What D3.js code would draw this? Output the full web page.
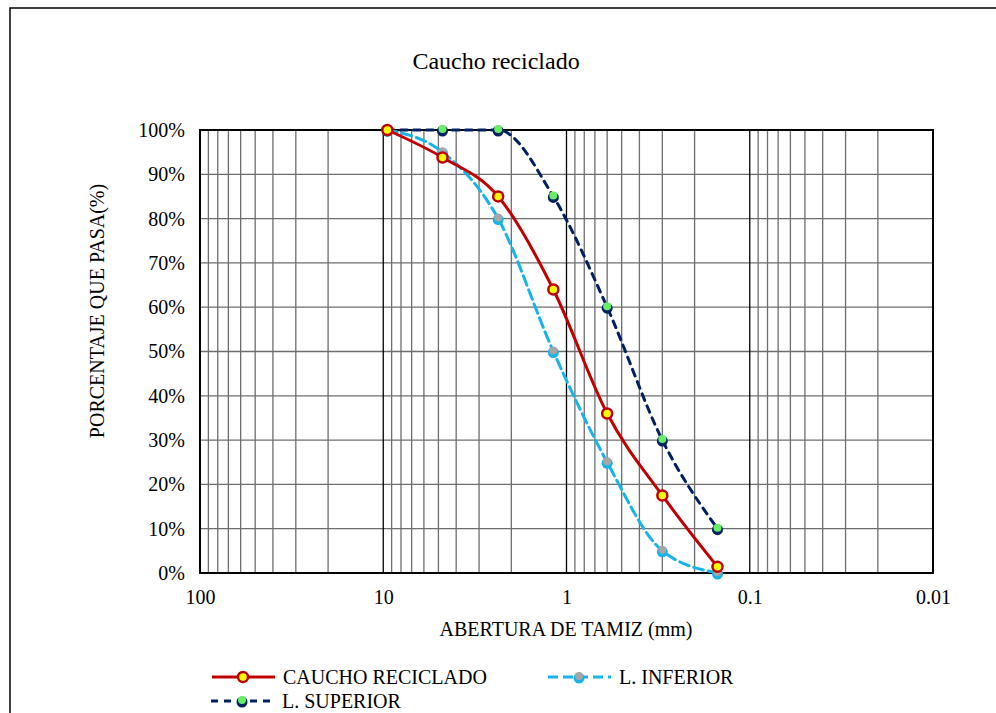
<!DOCTYPE html>
<html>
<head>
<meta charset="utf-8">
<script src="https://cdn.jsdelivr.net/npm/d3@7"></script>
<style>
  body { margin: 0; background: #fff; }
</style>
</head>
<body>
<svg id="chart" width="996" height="713" font-family="Liberation Serif"></svg>
<script>
// sieve openings (mm) and percent passing
const sieves = [9.5, 4.75, 2.36, 1.18, 0.6, 0.3, 0.15];
const caucho = [100, 93.8, 85, 64, 36, 17.5, 1.4];
const inferior = [100, 95, 80, 50, 25, 5, 0];
const superior = [100, 100, 100, 85, 60, 30, 10];
const xTicks = [100, 10, 1, 0.1, 0.01];
const yTicks = d3.range(0, 101, 10);

const FONT = 'Liberation Serif';

const series = [
    { name: 'CAUCHO RECICLADO', values: caucho, color: '#c00000', fill: '#ffff00', dash: null },
    { name: 'L. INFERIOR', values: inferior, color: '#17b4ea', fill: '#a6a6a6', dash: '10,5' },
    { name: 'L. SUPERIOR', values: superior, color: '#002060', fill: '#66ee66', dash: '7,6' }
];

const svg = d3.select('#chart');
const margin = { top: 130, left: 200, right: 63, bottom: 140 };
const width = 996 - margin.left - margin.right;
const height = 713 - margin.top - margin.bottom;

// outer chart border (extends beyond the window)
svg.append('rect')
    .attr('x', 10).attr('y', 8)
    .attr('width', 1000).attr('height', 720)
    .attr('fill', 'none').attr('stroke', '#000').attr('stroke-width', 1.5);

const g = svg.append('g').attr('transform', `translate(${margin.left},${margin.top})`);

const x = d3.scaleLog().domain([100, 0.01]).range([0, width]);
const y = d3.scaleLinear().domain([0, 100]).range([height, 0]);

// minor log grid
const minor = [];
[10, 1, 0.1, 0.01].forEach(d => {
    for (let k = 2; k <= 9; k++) minor.push(d * k);
});
g.append('g').selectAll('line').data(minor).enter().append('line')
    .attr('x1', d => x(d)).attr('x2', d => x(d))
    .attr('y1', 0).attr('y2', height)
    .attr('stroke', '#6e6e6e').attr('stroke-width', 1.3);

g.append('g').selectAll('line').data(yTicks.slice(1, -1)).enter().append('line')
    .attr('x1', 0).attr('x2', width)
    .attr('y1', d => y(d)).attr('y2', d => y(d))
    .attr('stroke', '#6e6e6e').attr('stroke-width', 1.3);

g.append('g').selectAll('line').data(xTicks.slice(1, -1)).enter().append('line')
    .attr('x1', d => x(d)).attr('x2', d => x(d))
    .attr('y1', 0).attr('y2', height)
    .attr('stroke', '#000').attr('stroke-width', 1.3);

g.append('rect')
    .attr('width', width).attr('height', height)
    .attr('fill', 'none').attr('stroke', '#000').attr('stroke-width', 2);

// axes
const xAxis = d3.axisBottom(x).tickValues(xTicks).tickSize(0).tickPadding(17)
    .tickFormat(d => String(d));
g.append('g').attr('class', 'x-axis')
    .attr('transform', `translate(0,${height})`)
    .call(xAxis);

const yAxis = d3.axisLeft(y).tickValues(yTicks).tickSize(0).tickPadding(15)
    .tickFormat(d => d + '%');
g.append('g').attr('class', 'y-axis').call(yAxis);

svg.selectAll('.domain').remove();
svg.selectAll('.x-axis, .y-axis').attr('font-family', FONT).attr('font-size', 20);
svg.selectAll('.x-axis text, .y-axis text').attr('fill', '#000');

// titles
svg.append('text').attr('x', 496).attr('y', 69)
    .attr('text-anchor', 'middle').attr('font-size', 24)
    .text('Caucho reciclado');
svg.append('text').attr('x', 566).attr('y', 636)
    .attr('text-anchor', 'middle').attr('font-size', 20)
    .text('ABERTURA DE TAMIZ (mm)');
svg.append('text')
    .attr('transform', 'translate(104,311) rotate(-90)')
    .attr('text-anchor', 'middle').attr('font-size', 20)
    .text('PORCENTAJE QUE PASA(%)');

// lines
const line = d3.line()
    .x(d => x(d[0])).y(d => y(d[1]))
    .curve(d3.curveMonotoneX);

function drawMarker(sel, s, cx, cy) {
    if (s.dash === null) {
        sel.append('circle').attr('cx', cx).attr('cy', cy).attr('r', 5)
            .attr('fill', s.fill).attr('stroke', s.color).attr('stroke-width', 2.5);
    } else {
        sel.append('circle').attr('cx', cx).attr('cy', cy + 1).attr('r', 5.5)
            .attr('fill', s.color);
        sel.append('circle').attr('cx', cx).attr('cy', cy - 1).attr('r', 4)
            .attr('fill', s.fill);
    }
}

// draw order: superior, inferior, caucho
[series[2], series[1], series[0]].forEach(s => {
    const pts = sieves.map((d, i) => [d, s.values[i]]);
    g.append('path').datum(pts)
        .attr('d', line)
        .attr('fill', 'none')
        .attr('stroke', s.color)
        .attr('stroke-width', 3)
        .attr('stroke-linecap', s.dash ? 'round' : 'butt')
        .attr('stroke-dasharray', s.dash);
    const mg = g.append('g');
    pts.forEach(p => drawMarker(mg, s, x(p[0]), y(p[1])));
});

// legend
const legendItems = [
    { s: series[0], x: 212, y: 677 },
    { s: series[1], x: 548, y: 677 },
    { s: series[2], x: 211, y: 701 }
];
legendItems.forEach(it => {
    const lg = svg.append('g');
    lg.append('line')
        .attr('x1', it.x).attr('x2', it.x + 63)
        .attr('y1', it.y).attr('y2', it.y)
        .attr('stroke', it.s.color).attr('stroke-width', 3)
        .attr('stroke-dasharray', it.s.dash);
    drawMarker(lg, it.s, it.x + 31, it.y);
    lg.append('text')
        .attr('x', it.x + 71).attr('y', it.y + 7)
        .attr('font-size', 20)
        .text(it.s.name);
});
</script>
</body>
</html>
